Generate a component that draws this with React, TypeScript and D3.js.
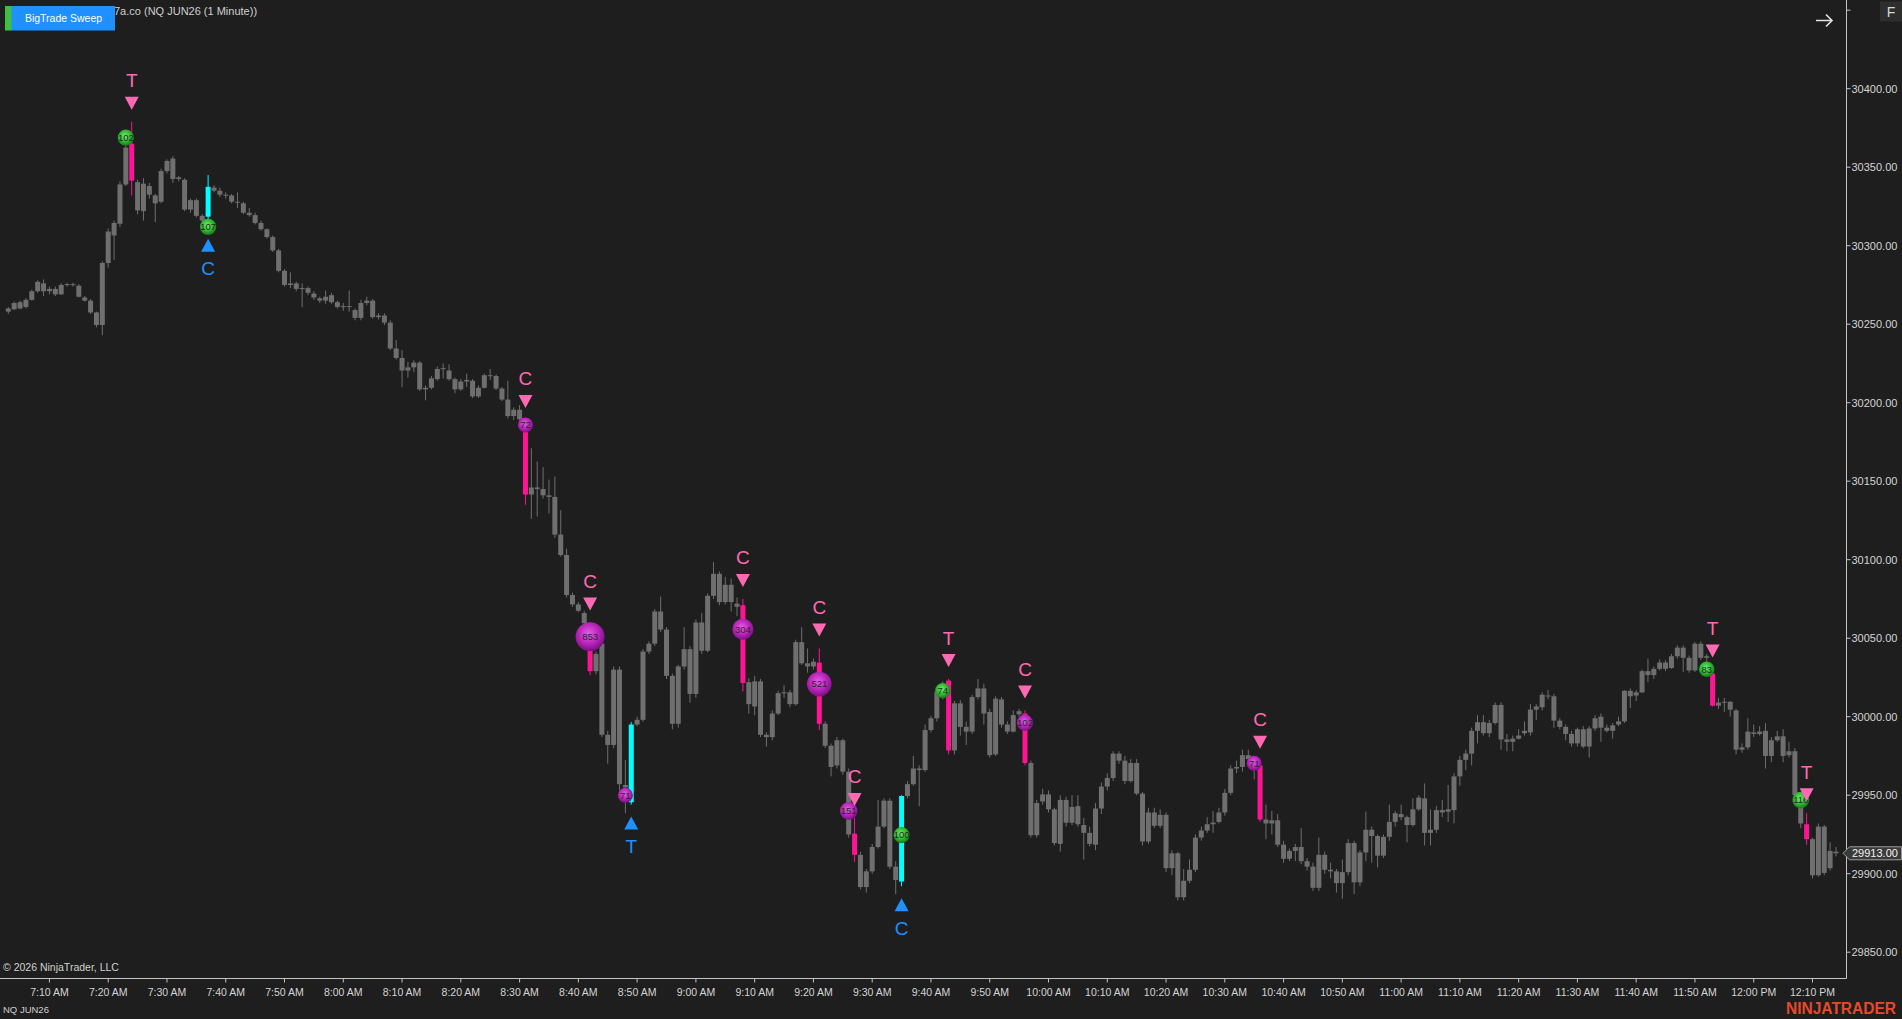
import React, { useEffect, useRef } from 'react';
import * as d3 from 'd3';

const W = 1902;
const H = 1019;
const START_MIN = 423; // first bar 7:03 AM

// one-minute bars [open, high, low, close], grouped by hour
const bars0700 = [
  [30258, 30261, 30256.5, 30260], [30259.5, 30264.5, 30259, 30263.5], [30260, 30265, 30259.5, 30264], [30261, 30266.5, 30260, 30265.5],
  [30265.5, 30272, 30265, 30271], [30271, 30278, 30270, 30277], [30276, 30278.5, 30268, 30271], [30271, 30274, 30269, 30272.5],
  [30272.5, 30274, 30268, 30269], [30269, 30276, 30268.5, 30275], [30275, 30276.5, 30274, 30275.5], [30275.5, 30276.5, 30274, 30275],
  [30274.5, 30275.5, 30267, 30267.5], [30267, 30268, 30264.5, 30265], [30265, 30266, 30256.5, 30257.5], [30257.5, 30258, 30248, 30249.5],
  [30249.5, 30290, 30243, 30289], [30289, 30311, 30286, 30309], [30306.5, 30316, 30291, 30314.5], [30314, 30341, 30312, 30339],
  [30339, 30369, 30338, 30362.5], [30365, 30379, 30332, 30341.5], [30340.5, 30342, 30320, 30322.5], [30322, 30343, 30316, 30339.5],
  [30338, 30340, 30330, 30332.5], [30332, 30333, 30315, 30327], [30328, 30349, 30327, 30347.5], [30347.5, 30355, 30346, 30354],
  [30355.5, 30357, 30340, 30342.5], [30342.5, 30344.5, 30341, 30343.5], [30342, 30343, 30322, 30323], [30323, 30330, 30321, 30329],
  [30329, 30330, 30318, 30319], [30319, 30320, 30314, 30316], [30318.5, 30345, 30312, 30337.5], [30337, 30338.5, 30334, 30335],
  [30335, 30337, 30331, 30332.5], [30332.5, 30334, 30330, 30332], [30332, 30333, 30327, 30328], [30328, 30334, 30324, 30327.5],
  [30327, 30328, 30320, 30321], [30321, 30324, 30318.5, 30319.5], [30319.5, 30321, 30313.5, 30314.5], [30314.5, 30316, 30309.5, 30310.5],
  [30310.5, 30311, 30304.5, 30305.5], [30305.5, 30306.5, 30296, 30297], [30297, 30298, 30283, 30284], [30284, 30285, 30274, 30275],
  [30275, 30283, 30273, 30276], [30276, 30277, 30271, 30272.5], [30272.5, 30276, 30261, 30273], [30273, 30274, 30268.5, 30270],
  [30269.5, 30271, 30265.5, 30267], [30266.5, 30267.5, 30263.5, 30265], [30265, 30271.5, 30263, 30267.5], [30268.5, 30270, 30263, 30264],
  [30264, 30265, 30260, 30261],
];
const bars0800 = [
  [30261, 30263.5, 30258.5, 30261.5], [30261.5, 30271.5, 30258, 30261], [30259, 30260, 30252.5, 30254], [30254, 30265.5, 30252.5, 30263.5],
  [30263.5, 30267.5, 30262, 30265], [30265, 30266, 30253.5, 30254.5], [30254.5, 30257, 30253, 30255.5], [30255.5, 30257, 30249.5, 30251],
  [30251, 30252.5, 30233.5, 30234.5], [30234.5, 30240, 30227.5, 30228.5], [30228.5, 30233.5, 30210, 30220.5], [30220.5, 30226, 30216, 30222.5],
  [30222.5, 30227, 30219.5, 30225.5], [30225.5, 30226.5, 30207.5, 30208.5], [30208.5, 30211, 30201.5, 30209.5], [30209.5, 30217, 30208.5, 30215.5],
  [30215, 30223, 30214, 30221.5], [30221.5, 30225, 30215.5, 30222], [30220.5, 30224.5, 30214, 30215], [30215, 30216, 30206, 30208.5],
  [30208.5, 30215, 30207.5, 30213.5], [30213.5, 30218.5, 30210, 30214.5], [30214, 30215, 30203, 30204], [30204, 30211, 30203, 30209.5],
  [30209.5, 30218.5, 30209, 30217.5], [30217.5, 30221.5, 30214.5, 30217], [30217, 30218, 30208, 30209], [30209, 30210, 30201, 30202],
  [30202, 30214, 30190, 30191.5], [30191.5, 30197, 30189, 30195.5], [30195.5, 30198.5, 30188.5, 30189.5], [30182, 30189, 30135, 30141.5],
  [30141.5, 30171, 30126, 30146], [30146, 30162.5, 30127.5, 30145], [30145, 30159, 30139, 30141], [30141, 30151, 30129.5, 30140],
  [30140, 30153, 30114, 30116], [30116, 30131.5, 30102, 30103], [30103, 30107, 30076, 30077.5], [30077.5, 30079, 30070, 30071.5],
  [30071.5, 30073, 30066.5, 30067.5], [30066, 30067.5, 30058.5, 30059.5], [30058.5, 30060, 30026.5, 30029], [30029, 30041.5, 30027, 30040],
  [30046.5, 30048, 29987, 29988.5], [29988.5, 29991, 29970, 29982], [29982, 30032, 29980, 30030], [30030, 30032, 29953, 29957],
  [29956.5, 29972.5, 29938.5, 29955], [29945.5, 29996.5, 29944, 29995], [29995, 30000, 29994, 29998], [29998, 30043, 29997, 30041.5],
  [30041.5, 30048, 30040, 30046.5], [30046.5, 30068.5, 30045, 30067], [30067, 30076.5, 30054, 30055.5], [30055.5, 30057, 30024, 30026],
  [30026, 30027.5, 29992, 29995.5], [29995.5, 30033, 29993, 30032], [30032, 30057, 30030, 30043], [30043, 30045, 30009, 30014.5],
];
const bars0900 = [
  [30014.5, 30062, 30012, 30060], [30060, 30066, 30040, 30042], [30042, 30078.5, 30041, 30077], [30077, 30098.5, 30075, 30091],
  [30091, 30092.5, 30071, 30073], [30073, 30089, 30071.5, 30084], [30084, 30088, 30067, 30073], [30072, 30076, 30064, 30070],
  [30071, 30075, 30016, 30021.5], [30022, 30024.5, 30002, 30008], [30006.5, 30026, 30001, 30022.5], [30022.5, 30024, 29987, 29988.5],
  [29988.5, 29990, 29981, 29987], [29987, 30004, 29985, 30002], [30002, 30016.5, 30001, 30015], [30015, 30020, 30012, 30015.5],
  [30015.5, 30017, 30006, 30008], [30008, 30049, 30007, 30047.5], [30047.5, 30057, 30033, 30034], [30034, 30043.5, 30028, 30032],
  [30032, 30037, 30030, 30035], [30034.5, 30043.5, 29991.5, 29995.5], [29995.5, 29997, 29980, 29981.5], [29981.5, 29983, 29962, 29968],
  [29969, 29987, 29967, 29985], [29985, 29986, 29963, 29965], [29965, 29967, 29923, 29925], [29925.5, 29935.5, 29907.5, 29912],
  [29912, 29914, 29890, 29891.5], [29891.5, 29903, 29888, 29901.5], [29901.5, 29919, 29900, 29917], [29917, 29947, 29916, 29930],
  [29930, 29948, 29929, 29946.5], [29946.5, 29948, 29903, 29904.5], [29904.5, 29908, 29887, 29896], [29895, 29950, 29892, 29949.5],
  [29949.5, 29959, 29948, 29957], [29957, 29975, 29956, 29967], [29967, 29969, 29943, 29966], [29966, 29995, 29965, 29991.5],
  [29991.5, 30000.5, 29990, 29999], [29999, 30018.5, 29997, 30016], [30016, 30022.5, 30011, 30021], [30023, 30024, 29976, 29978.5],
  [29978.5, 30010, 29976, 30008.5], [30008.5, 30010.5, 29988, 29993.5], [29993.5, 29997, 29982, 29990.5], [29990.5, 30014, 29989, 30012.5],
  [30012.5, 30024, 30011, 30018], [30018, 30021, 29995, 30002], [30003, 30005, 29974, 29975.5], [29976, 30013, 29975, 30011.5],
  [30011, 30012.5, 29993, 29995], [29995, 29997, 29989, 29990.5], [29990.5, 30004, 29990, 30001], [30001.5, 30005, 30000, 30003.5],
  [30002, 30004, 29969, 29970.5], [29970.5, 29972, 29923, 29924.5], [29924.5, 29947, 29923, 29945], [29946, 29954, 29944, 29950.5],
];
const bars1000 = [
  [29950.5, 29953, 29939, 29941], [29941, 29942, 29918, 29919.5], [29919, 29950, 29914, 29947], [29947, 29949, 29930, 29932.5],
  [29932.5, 29950, 29931, 29942.5], [29943, 29950, 29930, 29931.5], [29931, 29935.5, 29909, 29926], [29926, 29930, 29917.5, 29919],
  [29918.5, 29945, 29915, 29941.5], [29941.5, 29958, 29938, 29955.5], [29955.5, 29964, 29953, 29961], [29961, 29978, 29959, 29976.5],
  [29976.5, 29978, 29970, 29972], [29972, 29975, 29957, 29959], [29959, 29973, 29958, 29970.5], [29970.5, 29973, 29950, 29951],
  [29951, 29952, 29918, 29920.5], [29920.5, 29942, 29919, 29939], [29939, 29942, 29929, 29930.5], [29930.5, 29941, 29929, 29937.5],
  [29937.5, 29939, 29901, 29903.5], [29903.5, 29915, 29899, 29913], [29913, 29914, 29883, 29885], [29885, 29903, 29883, 29895.5],
  [29895.5, 29909, 29894, 29902.5], [29902.5, 29925, 29901, 29923], [29923, 29930, 29921, 29927.5], [29927.5, 29936, 29926, 29931.5],
  [29931.5, 29940, 29926, 29932.5], [29933, 29942, 29932, 29939], [29939, 29954, 29937, 29951.5], [29951.5, 29969, 29950, 29967],
  [29967, 29972, 29964, 29968], [29968, 29979, 29965, 29975.5], [29975.5, 29979, 29971, 29973], [29973, 29975, 29960, 29970],
  [29969, 29972, 29933, 29934.5], [29934.5, 29944, 29922, 29932], [29932, 29940, 29925, 29934], [29934, 29938, 29917, 29918.5],
  [29918.5, 29921, 29907, 29909.5], [29909.5, 29916, 29908, 29914.5], [29914.5, 29919, 29908, 29917], [29917, 29929, 29906, 29908],
  [29908, 29910, 29902, 29904.5], [29904.5, 29907, 29889, 29891], [29891, 29923, 29889, 29912], [29912, 29914, 29900, 29902.5],
  [29902.5, 29907, 29897, 29901.5], [29901.5, 29903, 29888, 29894], [29894, 29909, 29884, 29901], [29901, 29922, 29899, 29919.5],
  [29919.5, 29921, 29887, 29894.5], [29894.5, 29915, 29892, 29913.5], [29913.5, 29939.5, 29908, 29928], [29928, 29930, 29907, 29924],
  [29924, 29925, 29904, 29911.5], [29911.5, 29925, 29910, 29923.5], [29923.5, 29944, 29921, 29933], [29933, 29940, 29930, 29938.5],
];
const bars1100 = [
  [29938, 29944, 29934, 29936], [29936, 29937, 29920, 29931], [29931, 29948, 29930, 29941], [29941, 29950, 29940, 29948.5],
  [29948, 29957.5, 29918, 29926], [29926, 29941, 29918, 29928], [29928, 29943, 29926, 29940.5], [29940.5, 29947, 29936, 29939],
  [29939.5, 29956.5, 29933, 29941], [29940.5, 29964, 29932, 29962], [29962, 29975, 29956, 29972.5], [29972.5, 29979, 29966, 29976.5],
  [29976.5, 29993, 29969, 29991], [29991, 30001, 29983, 29996.5], [29996.5, 30001, 29988, 29989.5], [29989.5, 29998, 29987, 29996],
  [29996, 30009, 29995, 30007.5], [30007.5, 30009, 29979, 29985.5], [29985.5, 29989, 29978, 29984], [29984, 29988, 29978, 29986],
  [29986, 29992, 29985.5, 29988], [29989.5, 29997, 29988, 29991], [29990, 30008, 29988, 30004.5], [30004.5, 30008, 29998, 30006.5],
  [30006, 30015.5, 30004, 30014], [30013.5, 30017, 30011, 30013], [30013, 30014.5, 29993, 29997.5], [29997.5, 29999, 29992, 29993.5],
  [29993.5, 29995, 29985, 29989], [29989, 29991, 29981, 29983], [29983, 29993, 29981, 29992], [29992, 29994, 29980, 29981],
  [29981, 29994, 29974, 29992.5], [29992.5, 30001, 29991, 29999], [30000, 30002, 29984, 29993], [29993, 29995, 29990, 29991],
  [29991, 29996, 29986, 29994.5], [29995, 30000, 29994, 29997], [29997, 30017, 29996, 30016.5], [30016.5, 30018, 30005.5, 30013],
  [30013.5, 30017, 30010, 30015.5], [30015.5, 30030, 30015, 30029], [30029, 30037, 30022, 30026.5], [30026.5, 30032, 30024, 30030.5],
  [30030.5, 30036.5, 30029.5, 30034.5], [30034.5, 30036, 30029, 30030.5], [30031, 30040, 30030.5, 30038.5], [30038.5, 30045.5, 30037, 30044],
  [30044, 30045.5, 30028.5, 30037.5], [30037.5, 30039, 30028, 30029.5], [30029.5, 30047.5, 30028.5, 30046.5], [30046.5, 30048, 30036, 30037.5],
  [30037.5, 30040, 30031, 30038.5], [30027.5, 30030, 30006.5, 30007], [30007, 30012, 30005, 30009], [30009, 30012, 30003, 30009.5],
  [30009.5, 30010, 30000, 30004.5], [30004, 30005, 29976, 29979], [29979, 29983, 29977, 29980.5], [29980.5, 29999, 29979, 29990.5],
];
const bars1200 = [
  [29990, 29995, 29987, 29989], [29989, 29994, 29988, 29990.5], [29991, 29996, 29967, 29975], [29975, 29987, 29971, 29985],
  [29985, 29991, 29984, 29987.5], [29987.5, 29992, 29971, 29975], [29975.5, 29984, 29974, 29978], [29978, 29980, 29948, 29950],
  [29949, 29951, 29929, 29932], [29931.5, 29938.5, 29918.5, 29922], [29922, 29923, 29897, 29899], [29899, 29932, 29898, 29930],
  [29930, 29931, 29899, 29900.5], [29903.5, 29920, 29902, 29914.5], [29914, 29917, 29911, 29913],
];

// sweep signals (bar index from 7:03)
const sigBar = [21, 34, 88, 99, 106, 125, 138, 144, 152, 160, 173, 213, 290, 306];
const sigSide = ['sell', 'buy', 'sell', 'sell', 'buy', 'sell', 'sell', 'sell', 'buy', 'sell', 'sell', 'sell', 'sell', 'sell'];
const sigText = ['T', 'C', 'C', 'C', 'T', 'C', 'C', 'C', 'C', 'T', 'C', 'C', 'T', 'T'];
// big trade bubbles
const dotBar = [20, 34, 88, 99, 105, 125, 138, 143, 152, 159, 173, 212, 289, 305];
const dotPrice = [30368.8, 30312, 30185.8, 30051, 29950, 30055.7, 30020.8, 29940, 29924.6, 30016.6, 29996.2, 29970.3, 30030.2, 29946.9];
const dotSize = [102, 107, 72, 853, 71, 304, 521, 151, 100, 74, 102, 71, 83, 116];
const dotTone = ['green', 'green', 'magenta', 'magenta', 'magenta', 'magenta', 'magenta', 'magenta', 'green', 'green', 'magenta', 'magenta', 'green', 'green'];

const priceTicks = [29850, 29900, 29950, 30000, 30050, 30100, 30150, 30200, 30250, 30300, 30350, 30400, 30450];
const timeLabels = [
  '7:10 AM', '7:20 AM', '7:30 AM', '7:40 AM', '7:50 AM', '8:00 AM', '8:10 AM', '8:20 AM', '8:30 AM', '8:40 AM', '8:50 AM',
  '9:00 AM', '9:10 AM', '9:20 AM', '9:30 AM', '9:40 AM', '9:50 AM', '10:00 AM', '10:10 AM', '10:20 AM', '10:30 AM', '10:40 AM',
  '10:50 AM', '11:00 AM', '11:10 AM', '11:20 AM', '11:30 AM', '11:40 AM', '11:50 AM', '12:00 PM', '12:10 PM',
];
const lastPrice = 29913;

const FONT = '"Liberation Sans", Arial, sans-serif';
const BG = '#1e1e1e';
const GREY = '#6f6f6f';
const PINK_BAR = '#ff1493';
const CYAN_BAR = '#00ffff';
const PINK = '#ff69b4';
const BLUE = '#1e90ff';
const AXIS = '#c4c4c4';

export default function App() {
  const ref = useRef<SVGSVGElement>(null);

  useEffect(() => {
    const svg = d3.select(ref.current);
    svg.selectAll('*').remove();

    const all = [...bars0700, ...bars0800, ...bars0900, ...bars1000, ...bars1100, ...bars1200];
    const bars = all.map((b, i) => ({ i, t: START_MIN + i, o: b[0], h: b[1], l: b[2], c: b[3] }));

    const x = d3.scaleLinear().domain([START_MIN, START_MIN + 311]).range([8.3, 1836]);
    const y = d3.scaleLinear().domain([29850, 30400]).range([952.2, 88.7]);
    const r = d3.scaleSqrt().domain([0, 853]).range([4.7, 14.5]);

    const colorOf = (i: number) => {
      const k = sigBar.indexOf(i);
      if (k < 0) return GREY;
      return sigSide[k] === 'sell' ? PINK_BAR : CYAN_BAR;
    };

    svg.append('rect').attr('width', W).attr('height', H).attr('fill', BG);

    const defs = svg.append('defs');
    const grad = (id: string, c0: string, c1: string, c2: string) => {
      const g = defs.append('radialGradient').attr('id', id).attr('cx', '45%').attr('cy', '40%').attr('r', '60%');
      g.append('stop').attr('offset', '0%').attr('stop-color', c0);
      g.append('stop').attr('offset', '60%').attr('stop-color', c1);
      g.append('stop').attr('offset', '100%').attr('stop-color', c2);
    };
    grad('g-green', '#6ef06e', '#2fb52f', '#167a16');
    grad('g-magenta', '#e85ce8', '#b624b6', '#7a0f86');

    // candles
    const cg = svg.append('g').selectAll('g').data(bars).enter().append('g');
    cg.append('line')
      .attr('x1', d => x(d.t)).attr('x2', d => x(d.t))
      .attr('y1', d => y(d.h)).attr('y2', d => y(d.l))
      .attr('stroke', d => colorOf(d.i)).attr('stroke-width', 1);
    cg.append('rect')
      .attr('x', d => x(d.t) - 2.5).attr('width', 5)
      .attr('y', d => y(Math.max(d.o, d.c)))
      .attr('height', d => Math.max(1, y(Math.min(d.o, d.c)) - y(Math.max(d.o, d.c))))
      .attr('fill', d => colorOf(d.i));

    // bubbles
    const dots = dotBar.map((b, k) => ({ b, p: dotPrice[k], v: dotSize[k], tone: dotTone[k] }));
    const dg = svg.append('g').selectAll('g').data(dots).enter().append('g')
      .attr('transform', d => `translate(${x(START_MIN + d.b)},${y(d.p)})`);
    dg.append('circle').attr('r', d => r(d.v)).attr('fill', d => `url(#g-${d.tone})`);
    dg.append('text').text(d => d.v)
      .attr('text-anchor', 'middle').attr('dy', '0.35em')
      .attr('font-family', FONT).attr('font-size', 9.5).attr('fill', '#262626');

    // signal triangles + letters
    const sigs = sigBar.map((b, k) => ({ b, side: sigSide[k], txt: sigText[k] }));
    const sg = svg.append('g').selectAll('g').data(sigs).enter().append('g');
    sg.append('path').attr('d', d => {
      const bar = bars[d.b];
      const cx = x(bar.t);
      if (d.side === 'sell') {
        const tip = y(bar.h) - 12;
        return `M${cx - 7},${tip - 13}L${cx + 7},${tip - 13}L${cx},${tip}Z`;
      }
      const tip = y(bar.l) + 12;
      return `M${cx - 7},${tip + 13}L${cx + 7},${tip + 13}L${cx},${tip}Z`;
    }).attr('fill', d => (d.side === 'sell' ? PINK : BLUE));
    sg.append('text').text(d => d.txt)
      .attr('x', d => x(bars[d.b].t))
      .attr('y', d => {
        const bar = bars[d.b];
        return d.side === 'sell' ? y(bar.h) - 18.5 - 23 + 7 : y(bar.l) + 18.5 + 23 + 7;
      })
      .attr('text-anchor', 'middle').attr('font-family', FONT).attr('font-size', 19)
      .attr('fill', d => (d.side === 'sell' ? PINK : BLUE));

    // right price axis
    const axisX = 1846.5;
    svg.append('line').attr('x1', axisX).attr('x2', axisX).attr('y1', 0).attr('y2', 978.5)
      .attr('stroke', AXIS).attr('stroke-width', 1);
    const pt = svg.append('g').selectAll('g').data(priceTicks).enter().append('g');
    pt.append('line').attr('x1', axisX).attr('x2', axisX + 4)
      .attr('y1', d => y(d)).attr('y2', d => y(d)).attr('stroke', AXIS);
    pt.filter(d => d <= 30400).append('text').text(d => d3.format('.2f')(d))
      .attr('x', axisX + 5).attr('y', d => y(d) + 4)
      .attr('font-family', FONT).attr('font-size', 11).attr('fill', '#d4d4d4');

    // last price marker
    const ly = y(lastPrice);
    svg.append('path')
      .attr('d', `M${axisX - 3.5},${ly}L${axisX + 3},${ly - 6.5}H1901.5V${ly + 6.5}H${axisX + 3}Z`)
      .attr('fill', '#3a3a3a').attr('stroke', '#9c9c9c').attr('stroke-width', 1);
    svg.append('text').text(d3.format('.2f')(lastPrice))
      .attr('x', axisX + 5.5).attr('y', ly + 4)
      .attr('font-family', FONT).attr('font-size', 11).attr('fill', '#f2f2f2');

    // bottom time axis
    const axisY = 978.5;
    svg.append('line').attr('x1', 0).attr('x2', axisX).attr('y1', axisY).attr('y2', axisY)
      .attr('stroke', AXIS).attr('stroke-width', 1);
    const tt = svg.append('g').selectAll('g').data(timeLabels).enter().append('g')
      .attr('transform', (d, k) => `translate(${x(430 + k * 10)},0)`);
    tt.append('line').attr('y1', axisY).attr('y2', axisY + 4).attr('stroke', AXIS);
    tt.append('text').text(d => d).attr('y', 996).attr('text-anchor', 'middle')
      .attr('font-family', FONT).attr('font-size', 10.5).attr('fill', '#d4d4d4');

    // texts and chrome
    svg.append('text').text('\u00a9 2026 NinjaTrader, LLC').attr('x', 3).attr('y', 971)
      .attr('font-family', FONT).attr('font-size', 10.5).attr('fill', '#d0d0d0');
    svg.append('text').text('NQ JUN26').attr('x', 3).attr('y', 1013)
      .attr('font-family', FONT).attr('font-size', 9.5).attr('fill', '#d0d0d0');
    svg.append('text').text('NINJATRADER').attr('x', 1786).attr('y', 1014)
      .attr('textLength', 110).attr('lengthAdjust', 'spacingAndGlyphs')
      .attr('font-family', FONT).attr('font-weight', 'bold').attr('font-size', 16).attr('fill', '#e8492b');

    svg.append('text').text('7a.co (NQ JUN26 (1 Minute))').attr('x', 114).attr('y', 14.5)
      .attr('font-family', FONT).attr('font-size', 11).attr('fill', '#cfcfcf');
    svg.append('rect').attr('x', 5).attr('y', 6).attr('width', 7).attr('height', 24.5).attr('fill', '#3fbf3f');
    svg.append('rect').attr('x', 11.5).attr('y', 6).attr('width', 103.5).attr('height', 24.5).attr('fill', '#1e90ff');
    svg.append('text').text('BigTrade Sweep').attr('x', 63.5).attr('y', 21.5).attr('text-anchor', 'middle')
      .attr('font-family', FONT).attr('font-size', 10.5).attr('fill', '#ffffff');

    svg.append('path').attr('d', 'M1816,20.5H1832M1826,14.5L1832,20.5L1826,26.5')
      .attr('fill', 'none').attr('stroke', '#e2e2e2').attr('stroke-width', 1.6);
    svg.append('rect').attr('x', 1880).attr('y', 1.5).attr('width', 22).attr('height', 20).attr('fill', '#2e2e2e');
    svg.append('text').text('F').attr('x', 1891).attr('y', 16.5).attr('text-anchor', 'middle')
      .attr('font-family', FONT).attr('font-size', 14).attr('fill', '#d8d8d8');
  }, []);

  return (
    <svg
      ref={ref}
      width={W}
      height={H}
      style={{ position: 'absolute', left: 0, top: 0, display: 'block', background: BG }}
    />
  );
}
